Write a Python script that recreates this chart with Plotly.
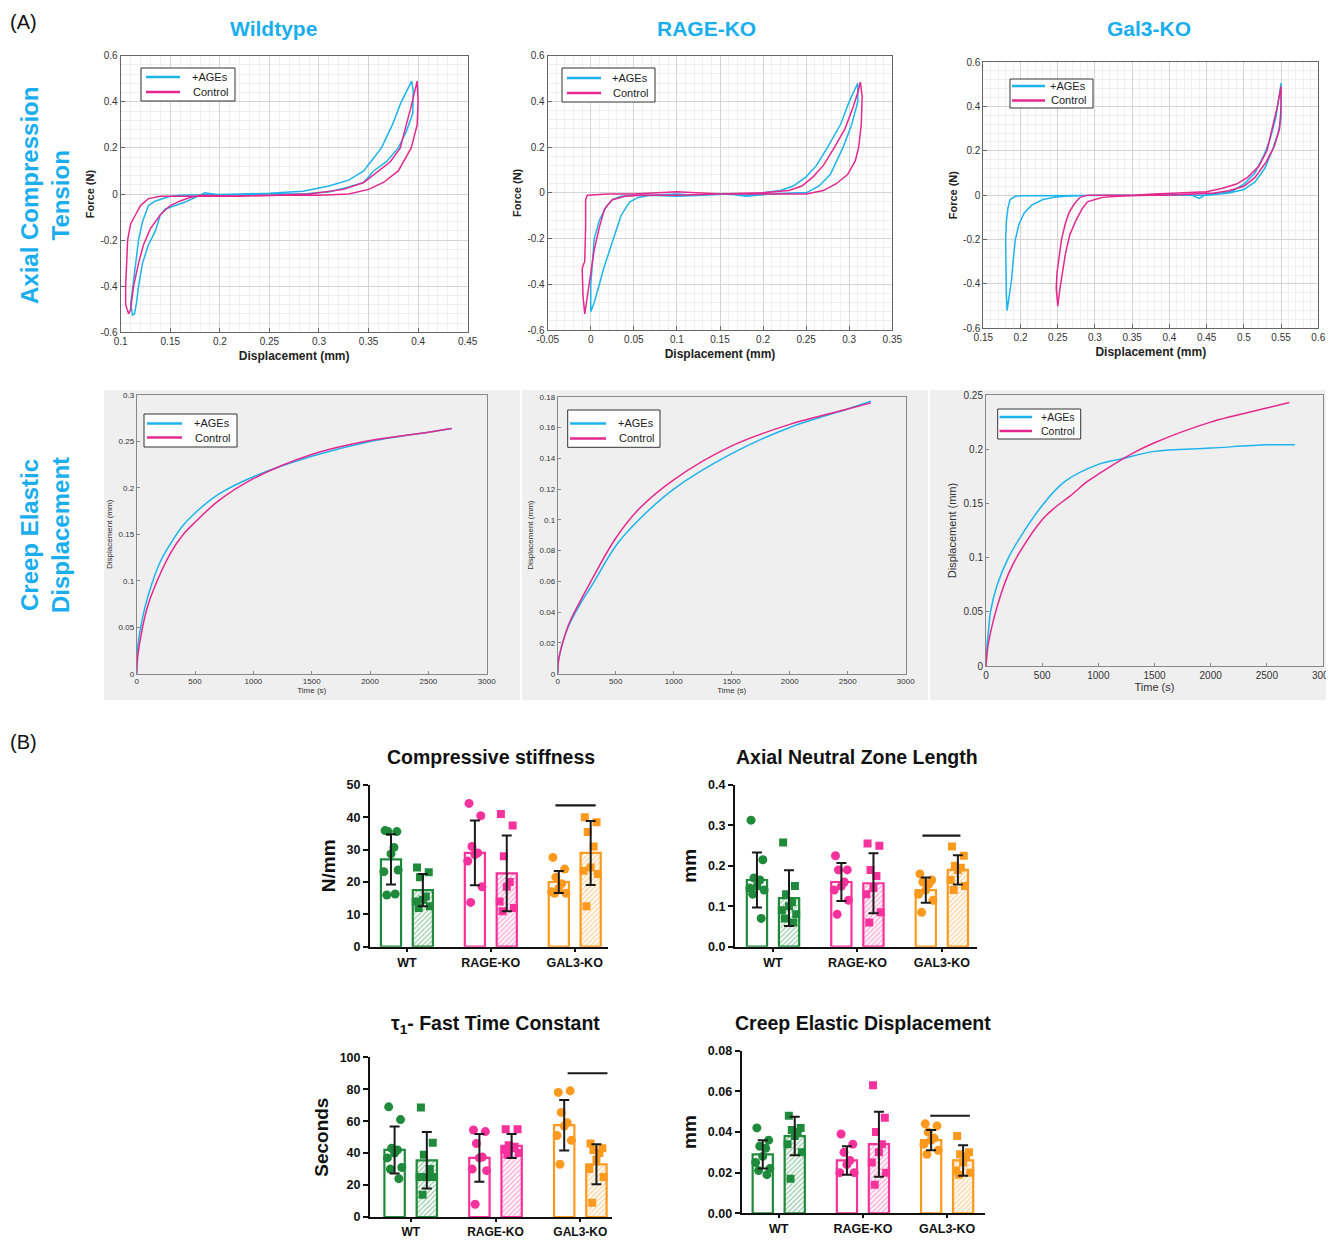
import plotly.graph_objects as go

# page body adds an 8px margin: the figure is placed at (8, 8) inside the 1334x1240 window
OX, OY = 8, 8
W, H = 1334 - OX, 1240 - OY
FONT = "Liberation Sans, Arial, sans-serif"
AGE_BLUE = "#1db3ee"
CTRL_MAG = "#e5288e"
HEAD_BLUE = "#1aaeef"
GREEN = "#1f8a3b"
PINK = "#f8329c"
ORANGE = "#ff9a1e"
GROUP_COLORS = [GREEN, PINK, ORANGE]
SERIES = ["+AGEs", "Control"]

# ---------------- (A) hysteresis loops: (displacement mm, force N) ----------------
wt_hyst_age = [(0.3935, 0.49), (0.39, 0.46), (0.383, 0.40), (0.374, 0.30), (0.363, 0.20), (0.354, 0.15),
               (0.345, 0.10), (0.33, 0.06), (0.31, 0.035), (0.284, 0.012), (0.25, 0.003), (0.22, 0.0),
               (0.19, -0.003), (0.16, -0.005), (0.15, -0.01), (0.135, -0.03), (0.128, -0.05), (0.122, -0.12),
               (0.118, -0.20), (0.115, -0.30), (0.112, -0.40), (0.11, -0.48), (0.112, -0.525), (0.114, -0.52),
               (0.116, -0.47), (0.118, -0.40), (0.122, -0.30), (0.128, -0.22), (0.135, -0.16), (0.14, -0.09),
               (0.145, -0.065), (0.155, -0.05), (0.165, -0.035), (0.175, -0.015), (0.185, 0.005), (0.2, -0.005),
               (0.25, 0.0), (0.284, 0.0), (0.311, 0.01), (0.33, 0.03), (0.345, 0.05), (0.355, 0.10),
               (0.368, 0.14), (0.38, 0.20), (0.388, 0.27), (0.3946, 0.35), (0.395, 0.45), (0.3935, 0.49)]
wt_hyst_ctrl = [(0.399, 0.49), (0.397, 0.45), (0.393, 0.38), (0.388, 0.30), (0.382, 0.20), (0.372, 0.14),
                (0.36, 0.10), (0.345, 0.05), (0.325, 0.02), (0.29, 0.0), (0.25, -0.005), (0.2, -0.01),
                (0.16, -0.01), (0.14, -0.01), (0.128, -0.02), (0.12, -0.05), (0.115, -0.09), (0.11, -0.13),
                (0.107, -0.20), (0.106, -0.30), (0.105, -0.40), (0.105, -0.48), (0.108, -0.52), (0.11, -0.50),
                (0.113, -0.40), (0.118, -0.30), (0.123, -0.22), (0.13, -0.15), (0.14, -0.09), (0.15, -0.05),
                (0.16, -0.03), (0.17, -0.015), (0.18, -0.005), (0.22, -0.01), (0.26, -0.005), (0.3, -0.005),
                (0.33, 0.0), (0.35, 0.02), (0.365, 0.05), (0.38, 0.10), (0.393, 0.20), (0.399, 0.30),
                (0.40, 0.40), (0.399, 0.49)]
rage_hyst_age = [(0.31, 0.48), (0.305, 0.44), (0.30, 0.40), (0.29, 0.30), (0.275, 0.20), (0.262, 0.12),
                 (0.25, 0.07), (0.235, 0.03), (0.22, 0.01), (0.20, 0.0), (0.18, -0.01), (0.15, -0.005),
                 (0.12, -0.01), (0.10, -0.005), (0.07, -0.01), (0.05, -0.01), (0.035, -0.015), (0.025, -0.03),
                 (0.018, -0.06), (0.01, -0.12), (0.004, -0.20), (0.002, -0.30), (0.0, -0.40), (0.0, -0.52),
                 (0.004, -0.48), (0.01, -0.40), (0.015, -0.33), (0.022, -0.25), (0.028, -0.18), (0.035, -0.10),
                 (0.045, -0.04), (0.055, -0.02), (0.07, -0.01), (0.10, -0.015), (0.13, -0.01), (0.16, -0.005),
                 (0.18, -0.015), (0.21, -0.005), (0.24, 0.0), (0.25, 0.0), (0.265, 0.03), (0.278, 0.08),
                 (0.293, 0.20), (0.303, 0.30), (0.31, 0.40), (0.31, 0.48)]
rage_hyst_ctrl = [(0.313, 0.485), (0.31, 0.44), (0.305, 0.38), (0.295, 0.28), (0.283, 0.20), (0.27, 0.12),
                  (0.258, 0.07), (0.245, 0.03), (0.23, 0.01), (0.20, 0.0), (0.15, -0.005), (0.10, 0.005),
                  (0.05, -0.005), (0.02, -0.005), (-0.004, -0.01), (-0.006, -0.03), (-0.006, -0.15),
                  (-0.007, -0.30), (-0.01, -0.33), (-0.009, -0.45), (-0.007, -0.53), (-0.004, -0.45),
                  (0.0, -0.35), (0.004, -0.25), (0.01, -0.15), (0.016, -0.07), (0.025, -0.03), (0.04, -0.015),
                  (0.06, -0.01), (0.10, -0.01), (0.15, -0.005), (0.20, -0.005), (0.23, -0.005), (0.25, -0.005),
                  (0.27, 0.01), (0.285, 0.04), (0.298, 0.08), (0.307, 0.14), (0.311, 0.20), (0.314, 0.30),
                  (0.315, 0.42), (0.313, 0.485)]
gal3_hyst_age = [(0.55, 0.505), (0.547, 0.44), (0.543, 0.35), (0.535, 0.25), (0.527, 0.18), (0.515, 0.10),
                 (0.50, 0.05), (0.485, 0.02), (0.47, 0.01), (0.45, 0.005), (0.44, -0.015), (0.43, 0.0),
                 (0.40, 0.005), (0.35, 0.0), (0.30, 0.0), (0.25, 0.0), (0.22, -0.003), (0.20, -0.003),
                 (0.193, -0.005), (0.186, -0.02), (0.183, -0.06), (0.181, -0.12), (0.18, -0.20), (0.18, -0.35),
                 (0.181, -0.45), (0.182, -0.52), (0.185, -0.46), (0.188, -0.38), (0.19, -0.30), (0.193, -0.20),
                 (0.198, -0.13), (0.205, -0.08), (0.215, -0.045), (0.23, -0.02), (0.245, -0.01), (0.26, -0.005),
                 (0.30, 0.0), (0.35, 0.0), (0.40, 0.0), (0.45, 0.0), (0.48, 0.01), (0.50, 0.025), (0.515, 0.06),
                 (0.528, 0.12), (0.538, 0.20), (0.546, 0.28), (0.55, 0.35), (0.55, 0.505)]
gal3_hyst_ctrl = [(0.55, 0.49), (0.545, 0.40), (0.538, 0.30), (0.531, 0.20), (0.52, 0.13), (0.505, 0.08),
                  (0.49, 0.05), (0.47, 0.03), (0.45, 0.015), (0.40, 0.01), (0.38, 0.005), (0.35, 0.0),
                  (0.30, 0.0), (0.29, 0.0), (0.28, -0.01), (0.272, -0.04), (0.265, -0.08), (0.26, -0.13),
                  (0.255, -0.20), (0.252, -0.28), (0.249, -0.35), (0.248, -0.42), (0.25, -0.50), (0.253, -0.42),
                  (0.256, -0.35), (0.26, -0.27), (0.266, -0.18), (0.275, -0.11), (0.283, -0.06), (0.29, -0.03),
                  (0.30, -0.02), (0.31, -0.01), (0.33, -0.005), (0.37, 0.0), (0.40, 0.0), (0.43, 0.005),
                  (0.46, 0.01), (0.48, 0.02), (0.50, 0.04), (0.515, 0.08), (0.53, 0.15), (0.541, 0.22),
                  (0.548, 0.30), (0.55, 0.40), (0.55, 0.49)]

# ---------------- (A) creep curves: (time s, displacement mm) ----------------
wt_creep_age = [(0, 0), (5, 0.02), (10, 0.03), (50, 0.06), (100, 0.085), (200, 0.12), (300, 0.142), (400, 0.16),
                (500, 0.173), (700, 0.193), (1000, 0.212), (1500, 0.234), (2000, 0.25), (2500, 0.26), (2700, 0.264)]
wt_creep_ctrl = [(0, 0), (5, 0.012), (10, 0.02), (50, 0.05), (100, 0.075), (200, 0.107), (300, 0.132),
                 (400, 0.15), (500, 0.163), (700, 0.186), (1000, 0.21), (1500, 0.236), (2000, 0.251),
                 (2500, 0.26), (2700, 0.264)]
rage_creep_age = [(0, 0), (5, 0.007), (10, 0.01), (50, 0.022), (100, 0.032), (200, 0.046), (300, 0.058),
                  (500, 0.083), (700, 0.10), (1000, 0.12), (1500, 0.143), (2000, 0.16), (2500, 0.172), (2700, 0.177)]
rage_creep_ctrl = [(0, 0), (5, 0.007), (10, 0.01), (50, 0.022), (100, 0.033), (200, 0.048), (300, 0.062),
                   (500, 0.088), (700, 0.107), (1000, 0.126), (1500, 0.148), (2000, 0.162), (2500, 0.172), (2700, 0.176)]
gal3_creep_age = [(0, 0), (10, 0.02), (20, 0.03), (40, 0.05), (100, 0.075), (200, 0.10), (300, 0.118),
                  (500, 0.148), (700, 0.17), (1000, 0.186), (1200, 0.191), (1500, 0.198), (2000, 0.201),
                  (2500, 0.204), (2750, 0.204)]
gal3_creep_ctrl = [(0, 0), (20, 0.02), (100, 0.055), (200, 0.085), (300, 0.105), (500, 0.135), (600, 0.145),
                   (750, 0.157), (900, 0.17), (1000, 0.177), (1300, 0.196), (1500, 0.206), (2000, 0.225),
                   (2500, 0.238), (2700, 0.243)]

# ---------------- (B) bar charts ----------------
groups = ["WT", "RAGE-KO", "GAL3-KO"]

stiff_ctrl_mean = [27.0, 29.0, 20.0]
stiff_ctrl_sd = [7.8, 10.0, 3.4]
stiff_age_mean = [17.5, 22.7, 29.0]
stiff_age_sd = [5.0, 11.7, 9.9]
stiff_ctrl_pts = [[35.9, 35.6, 35.6, 30.7, 28.7, 23.2, 23.7, 16.0, 16.3],
                  [44.3, 40.5, 31.0, 29.0, 28.5, 26.5, 18.5, 13.7],
                  [27.6, 24.0, 21.5, 19.5, 18.0, 17.0, 16.5, 16.5]]
stiff_age_pts = [[24.5, 23.0, 21.5, 15.5, 14.5, 14.0, 12.5, 12.0],
                 [41.0, 37.5, 28.0, 20.0, 18.5, 14.0, 12.0, 11.0],
                 [40.0, 38.5, 35.5, 31.0, 24.5, 23.5, 22.5, 12.5]]
stiff_sig = 43.7

nz_ctrl_mean = [0.165, 0.16, 0.14]
nz_ctrl_sd = [0.068, 0.047, 0.031]
nz_age_mean = [0.12, 0.157, 0.19]
nz_age_sd = [0.069, 0.074, 0.036]
nz_ctrl_pts = [[0.313, 0.215, 0.17, 0.165, 0.15, 0.145, 0.14, 0.13, 0.07],
               [0.225, 0.19, 0.19, 0.16, 0.15, 0.14, 0.115, 0.08],
               [0.18, 0.165, 0.16, 0.155, 0.14, 0.13, 0.115, 0.085]]
nz_age_pts = [[0.258, 0.15, 0.13, 0.11, 0.10, 0.09, 0.08, 0.07, 0.06],
              [0.255, 0.25, 0.19, 0.175, 0.145, 0.13, 0.085, 0.06],
              [0.248, 0.225, 0.20, 0.195, 0.19, 0.165, 0.15, 0.14]]
nz_sig = 0.275

tau_ctrl_mean = [42.0, 37.0, 57.5]
tau_ctrl_sd = [14.7, 15.0, 15.8]
tau_age_mean = [35.5, 44.5, 33.0]
tau_age_sd = [17.7, 7.5, 12.5]
tau_ctrl_pts = [[69, 61, 43, 42, 40, 37, 31, 30, 24],
                [54.5, 53.5, 46, 37.5, 37, 30, 29, 8],
                [78, 79, 65.5, 59, 57, 51, 48, 33]]
tau_age_pts = [[68.5, 46.5, 39, 30, 25, 25, 25, 14],
               [55, 55, 45, 44, 43, 42, 40, 39],
               [46, 43, 42, 40, 36, 30, 25, 9]]
tau_sig = 90

ced_ctrl_mean = [0.029, 0.026, 0.036]
ced_ctrl_sd = [0.007, 0.007, 0.005]
ced_age_mean = [0.038, 0.034, 0.026]
ced_age_sd = [0.0095, 0.016, 0.0075]
ced_ctrl_pts = [[0.042, 0.036, 0.033, 0.032, 0.028, 0.025, 0.022, 0.021, 0.019],
                [0.039, 0.034, 0.030, 0.026, 0.024, 0.020, 0.020],
                [0.044, 0.043, 0.040, 0.037, 0.036, 0.034, 0.031, 0.029]]
ced_age_pts = [[0.048, 0.042, 0.041, 0.040, 0.038, 0.034, 0.030, 0.017],
               [0.063, 0.047, 0.040, 0.034, 0.030, 0.025, 0.020, 0.014],
               [0.038, 0.030, 0.029, 0.028, 0.025, 0.021, 0.020, 0.019]]
ced_sig = 0.048


# ---------------- helpers (window pixel -> paper fraction) ----------------
def fx(px):
    return (px - OX) / W


def fy(py):
    return 1 - (py - OY) / H


def dom_x(l, r):
    return [fx(l), fx(r)]


def dom_y(t, b):
    return [fy(b), fy(t)]


def tick_list(start, stop, step, fmt="g"):
    n = int(round((stop - start) / step))
    vals = [round(start + i * step, 6) for i in range(n + 1)]
    return vals, [format(v, fmt) for v in vals]


fig = go.Figure()
layout = {}
annotations = []
shapes = []


def axkey(kind, n):
    return f"{kind}axis" if n == 1 else f"{kind}axis{n}"


def ref(kind, n):
    return kind if n == 1 else f"{kind}{n}"


def add_legend(box, rows, line_x, text_right, fsize):
    """Boxed MATLAB-style legend: box=(x0,y0,x1,y1) window px, rows=y centres."""
    x0, y0, x1, y1 = box
    shapes.append(dict(type="rect", xref="paper", yref="paper", x0=fx(x0), x1=fx(x1), y0=fy(y1), y1=fy(y0),
                       fillcolor="white", line=dict(color="#333", width=1), layer="above"))
    for label, col, yy in zip(SERIES, (AGE_BLUE, CTRL_MAG), rows):
        shapes.append(dict(type="line", xref="paper", yref="paper", x0=fx(line_x[0]), x1=fx(line_x[1]),
                           y0=fy(yy), y1=fy(yy), line=dict(color=col, width=2.5), layer="above"))
        annotations.append(dict(text=label, x=fx(text_right), y=fy(yy), xref="paper", yref="paper",
                                xanchor="right", yanchor="middle", showarrow=False,
                                font=dict(size=fsize, color="#222", family=FONT)))


# ---- hysteresis panels ----
hyst_panels = [
    (1, wt_hyst_age, wt_hyst_ctrl, (0.1, 0.45), (120.7, 467.7), (55.7, 332.3),
     ((141, 68, 235, 101), (77, 92), (146, 180), 230)),
    (2, rage_hyst_age, rage_hyst_ctrl, (-0.05, 0.35), (547.7, 892.3), (55.7, 330.0),
     ((562, 68, 655, 102), (78, 93), (567, 601), 650)),
    (3, gal3_hyst_age, gal3_hyst_ctrl, (0.15, 0.6), (983.3, 1318.3), (62.0, 328.3),
     ((1010, 79, 1093, 108), (86, 100.5), (1012, 1045), 1088)),
]
for n, age, ctrl, xr, xd, yd, lg in hyst_panels:
    for name, data, col in zip(SERIES, (age, ctrl), (AGE_BLUE, CTRL_MAG)):
        fig.add_trace(go.Scatter(
            x=[p[0] for p in data], y=[p[1] for p in data], mode="lines", name=name, showlegend=False,
            line=dict(color=col, width=1.5), xaxis=ref("x", n), yaxis=ref("y", n)))
    xv, xt = tick_list(xr[0], xr[1], 0.05)
    yv, yt = tick_list(-0.6, 0.6, 0.2)
    common = dict(showline=True, mirror=True, linecolor="#666", linewidth=1, ticks="inside", ticklen=4,
                  tickcolor="#666", showgrid=True, gridcolor="#d4d4d4", gridwidth=1, zeroline=False,
                  automargin=False, ticklabeloverflow="allow",
                  tickfont=dict(size=10, color="#333", family=FONT))
    layout[axkey("x", n)] = dict(common, domain=dom_x(*xd), anchor=ref("y", n), range=list(xr),
                                 tickvals=xv, ticktext=xt,
                                 minor=dict(dtick=0.01, showgrid=True, gridcolor="#efefef", ticks=""),
                                 title=dict(text="Displacement (mm)", standoff=5,
                                            font=dict(size=12, color="#222", weight="bold", family=FONT)))
    layout[axkey("y", n)] = dict(common, domain=dom_y(*yd), anchor=ref("x", n), range=[-0.6, 0.6],
                                 tickvals=yv, ticktext=yt,
                                 minor=dict(dtick=0.04, showgrid=True, gridcolor="#efefef", ticks=""),
                                 title=dict(text="Force (N)", standoff=3,
                                            font=dict(size=11, color="#222", weight="bold", family=FONT)))
    add_legend(*lg, 11)

# ---- creep panels ----
creep_panels = [
    (4, wt_creep_age, wt_creep_ctrl, 0.3, 0.05, (136.7, 486.7), (395.0, 673.7), 8, 8,
     ((144, 414, 237, 447), (423.5, 437.5), (147, 182), 232), 11),
    (5, rage_creep_age, rage_creep_ctrl, 0.18, 0.02, (557.7, 905.7), (396.7, 673.7), 8, 8,
     ((567.7, 410, 660, 447.3), (423.5, 438.5), (570, 606), 656), 11),
    (6, gal3_creep_age, gal3_creep_ctrl, 0.25, 0.05, (986.0, 1323.0), (395.0, 666.0), 10, 11,
     ((997.7, 409, 1080.7, 439), (417, 431), (999.5, 1032), 1077), 10.5),
]
for n, age, ctrl, ymax, ydt, xd, yd, tfs, lfs, lg, legfs in creep_panels:
    for name, data, col in zip(SERIES, (age, ctrl), (AGE_BLUE, CTRL_MAG)):
        fig.add_trace(go.Scatter(
            x=[p[0] for p in data], y=[p[1] for p in data], mode="lines", name=name, showlegend=False,
            line=dict(color=col, width=1.5, shape="spline"), xaxis=ref("x", n), yaxis=ref("y", n)))
    xv, xt = tick_list(0, 3000, 500)
    yv, yt = tick_list(0, ymax, ydt)
    common = dict(showline=True, mirror=True, linecolor="#888", linewidth=1, ticks="inside", ticklen=3,
                  tickcolor="#888", showgrid=False, zeroline=False, automargin=False,
                  ticklabeloverflow="allow", tickfont=dict(size=tfs, color="#333", family=FONT))
    layout[axkey("x", n)] = dict(common, domain=dom_x(*xd), anchor=ref("y", n), range=[0, 3000],
                                 tickvals=xv, ticktext=xt,
                                 title=dict(text="Time (s)", standoff=2,
                                            font=dict(size=lfs, color="#333", family=FONT)))
    layout[axkey("y", n)] = dict(common, domain=dom_y(*yd), anchor=ref("x", n), range=[0, ymax],
                                 tickvals=yv, ticktext=yt,
                                 title=dict(text="Displacement (mm)", standoff=4,
                                            font=dict(size=lfs, color="#333", family=FONT)))
    add_legend(*lg, legfs)

# ---- bar panels ----
JITTER = [-0.07, 0.07, -0.035, 0.035, 0.0, -0.085, 0.085, -0.05, 0.05]
OFF = 0.19
BW = 0.24
bar_panels = [
    (7, "Compressive stiffness", "N/mm", stiff_ctrl_mean, stiff_ctrl_sd, stiff_age_mean, stiff_age_sd,
     stiff_ctrl_pts, stiff_age_pts, stiff_sig, (0, 50, 10, "g"), (-0.44, 2.40), (370, 608.3), (785, 946.7),
     (491, 757), (1.77, 2.25), 12.5),
    (8, "Axial Neutral Zone Length", "mm", nz_ctrl_mean, nz_ctrl_sd, nz_age_mean, nz_age_sd,
     nz_ctrl_pts, nz_age_pts, nz_sig, (0, 0.4, 0.1, ".1f"), (-0.45, 2.42), (735, 977.3), (785, 946.7),
     (857, 757), (1.77, 2.22), 12.5),
    (9, "τ<sub>1</sub>- Fast Time Constant", "Seconds", tau_ctrl_mean, tau_ctrl_sd, tau_age_mean, tau_age_sd,
     tau_ctrl_pts, tau_age_pts, tau_sig, (0, 100, 20, "g"), (-0.48, 2.37), (370, 611.7), (1057.3, 1217.0),
     (495, 1024), (1.85, 2.32), 12),
    (10, "Creep Elastic Displacement", "mm", ced_ctrl_mean, ced_ctrl_sd, ced_age_mean, ced_age_sd,
     ced_ctrl_pts, ced_age_pts, ced_sig, (0, 0.08, 0.02, ".2f"), (-0.44, 2.45), (741.7, 985), (1050.7, 1213.3),
     (863, 1023), (1.8, 2.27), 12.5),
]
for (n, title, ytitle, cm, csd, am, asd, cpts, apts, sig, yt_spec, xr, xd, yd, tpos, sigx, xfs) in bar_panels:
    xa, ya = ref("x", n), ref("y", n)
    cx = [g - OFF for g in range(3)]
    ax_ = [g + OFF for g in range(3)]
    fig.add_trace(go.Bar(x=cx, y=cm, width=BW, xaxis=xa, yaxis=ya, showlegend=False,
                         marker=dict(color="white", line=dict(color=GROUP_COLORS, width=2.2))))
    fig.add_trace(go.Bar(x=ax_, y=am, width=BW, xaxis=xa, yaxis=ya, showlegend=False,
                         marker=dict(color="white", line=dict(color=GROUP_COLORS, width=2.2),
                                     pattern=dict(shape="/", fgcolor=GROUP_COLORS, bgcolor="white",
                                                  size=3.5, solidity=0.35))))
    for g in range(3):
        for pts, base, sym, sz in ((cpts[g], cx[g], "circle", 9), (apts[g], ax_[g], "square", 8)):
            fig.add_trace(go.Scatter(
                x=[base + JITTER[i % len(JITTER)] for i in range(len(pts))], y=pts, mode="markers",
                xaxis=xa, yaxis=ya, showlegend=False,
                marker=dict(symbol=sym, size=sz, color=GROUP_COLORS[g], line=dict(width=0))))
    for xs, means, sds in ((cx, cm, csd), (ax_, am, asd)):
        fig.add_trace(go.Scatter(
            x=xs, y=means, mode="markers", xaxis=xa, yaxis=ya, showlegend=False,
            marker=dict(size=1, opacity=0),
            error_y=dict(type="data", array=sds, visible=True, color="#1a1a1a", thickness=2, width=5)))
    fig.add_trace(go.Scatter(x=list(sigx), y=[sig, sig], mode="lines", xaxis=xa, yaxis=ya, showlegend=False,
                             line=dict(color="#1a1a1a", width=2.2)))
    yv, ytx = tick_list(yt_spec[0], yt_spec[1], yt_spec[2], yt_spec[3])
    layout[axkey("x", n)] = dict(domain=dom_x(*xd), anchor=ya, range=list(xr), tickvals=[0, 1, 2],
                                 ticktext=groups, showline=True, linecolor="#111", linewidth=2,
                                 ticks="outside", ticklen=3, tickwidth=2, tickcolor="#111",
                                 showgrid=False, zeroline=False, automargin=False,
                                 tickfont=dict(size=xfs, color="#111", weight="bold", family=FONT))
    layout[axkey("y", n)] = dict(domain=dom_y(*yd), anchor=xa, range=[yt_spec[0], yt_spec[1]],
                                 tickvals=yv, ticktext=ytx, showline=True, linecolor="#111", linewidth=2,
                                 ticks="outside", ticklen=5, tickwidth=2, tickcolor="#111",
                                 showgrid=False, zeroline=False, automargin=False,
                                 tickfont=dict(size=12.5, color="#111", weight="bold", family=FONT),
                                 title=dict(text=ytitle, standoff=6,
                                            font=dict(size=19, color="#111", weight="bold", family=FONT)))
    annotations.append(dict(text=title, x=fx(tpos[0]), y=fy(tpos[1]), xref="paper", yref="paper",
                            xanchor="center", yanchor="middle", showarrow=False,
                            font=dict(size=19.5, color="#111", weight="bold", family=FONT)))

# ---- headings ----
for txt, px, py in (("Wildtype", 273, 28), ("RAGE-KO", 706, 28), ("Gal3-KO", 1149, 28)):
    annotations.append(dict(text=txt, x=fx(px), y=fy(py), xref="paper", yref="paper", xanchor="center",
                            yanchor="middle", showarrow=False,
                            font=dict(size=21, color=HEAD_BLUE, weight="bold", family=FONT)))
for txt, px, py in (("Axial Compression<br>Tension", 45, 196), ("Creep Elastic<br>Displacement", 45, 535)):
    annotations.append(dict(text=txt, x=fx(px), y=fy(py), xref="paper", yref="paper", xanchor="center",
                            yanchor="middle", showarrow=False, textangle=-90,
                            font=dict(size=24, color=HEAD_BLUE, weight="bold", family=FONT)))
for txt, py in (("(A)", 22), ("(B)", 742)):
    annotations.append(dict(text=txt, x=fx(8), y=fy(py), xref="paper", yref="paper", xanchor="left",
                            yanchor="middle", showarrow=False, font=dict(size=20, color="#111", family=FONT)))

for x0, x1 in ((104, 520), (522, 928), (930, 1334)):
    shapes.append(dict(type="rect", xref="paper", yref="paper", x0=fx(x0), x1=fx(x1), y0=fy(700),
                       y1=fy(390), fillcolor="#efefef", line=dict(width=0), layer="below"))

fig.update_layout(width=W, height=H, margin=dict(l=0, r=0, t=0, b=0, autoexpand=False),
                  paper_bgcolor="white", plot_bgcolor="white", font=dict(family=FONT), barmode="overlay",
                  showlegend=False, annotations=annotations, shapes=shapes, **layout)

fig.write_html("out.html")
